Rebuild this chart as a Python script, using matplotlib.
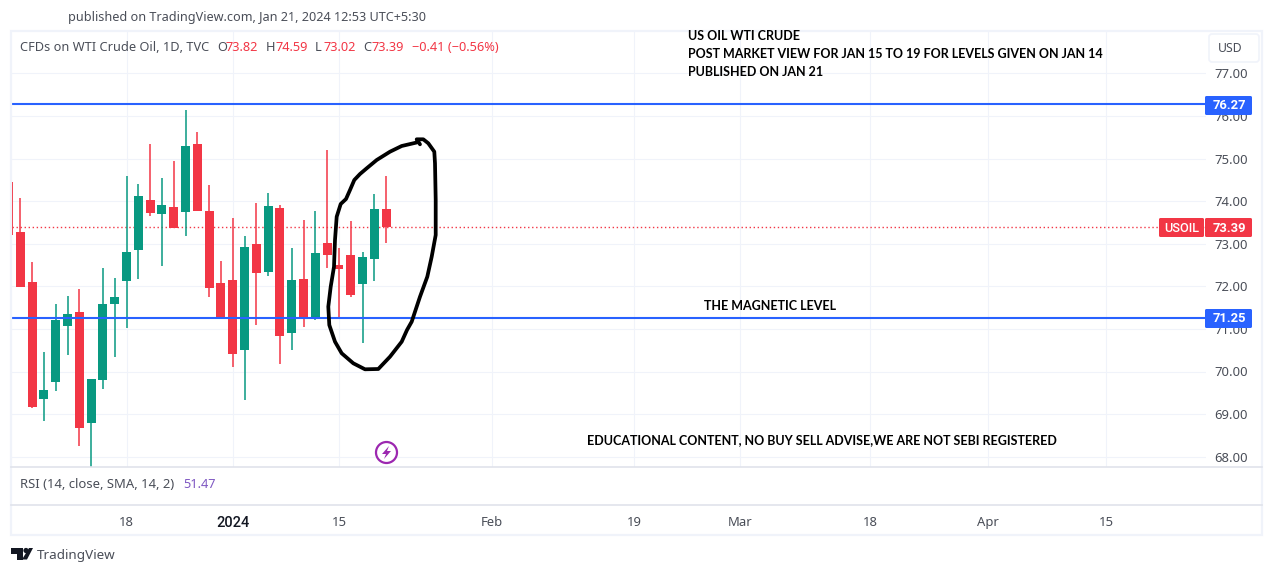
import matplotlib
matplotlib.use("Agg")
import matplotlib.pyplot as plt
from matplotlib.patches import FancyBboxPatch, Rectangle, Circle, Polygon

W, H = 1273, 574

# bar index runs from -1 (cut off at left edge) to 31 (Jan 19)
opens = [74.46, 73.28, 72.10, 69.36, 69.76, 71.07, 71.40, 68.79, 69.80, 71.59, 72.13,
         72.85, 74.03, 73.70, 73.86, 73.75, 75.34, 73.77, 72.08, 72.15, 70.51, 72.99,
         72.34, 73.84, 70.91, 72.17, 71.28, 73.02, 72.50, 72.74, 72.06, 72.64, 73.82]
highs = [74.60, 74.08, 72.57, 70.46, 71.59, 71.78, 71.94, 69.83, 72.43, 72.20, 74.59,
         74.40, 75.34, 74.54, 74.94, 76.14, 75.62, 74.38, 72.60, 73.61, 73.18, 73.96,
         74.19, 73.91, 72.90, 73.56, 73.77, 75.20, 72.90, 73.54, 72.81, 74.17, 74.59]
lows = [73.10, 71.99, 69.15, 68.84, 69.55, 70.39, 68.25, 67.70, 69.59, 70.34, 71.02,
        72.17, 73.65, 72.48, 73.37, 73.18, 73.77, 71.75, 71.28, 70.11, 69.33, 71.09,
        72.24, 70.18, 70.51, 71.05, 71.21, 72.43, 71.28, 71.75, 70.67, 72.13, 73.02]
closes = [73.21, 71.99, 69.17, 69.57, 71.21, 71.35, 68.68, 69.83, 71.59, 71.75, 72.81,
          74.12, 73.72, 73.91, 73.37, 75.30, 73.77, 71.96, 71.28, 70.41, 72.92, 72.31,
          73.89, 70.84, 72.15, 71.23, 72.78, 72.74, 72.41, 71.80, 72.69, 73.82, 73.39]

price_ticks = [68, 69, 70, 71, 72, 73, 74, 75, 76, 77]
time_pos = [9, 18, 27, 40, 52, 61, 72, 82, 92]
time_labels = ["18", "2024", "15", "Feb", "19", "Mar", "18", "Apr", "15"]
levels = [76.27, 71.25]
last_close = 73.39

# hand drawn loop, screen pixels
loop_x = [420, 416.7, 423.3, 428.3, 434.3, 435, 435.7, 435.7, 431.7, 427.3, 420, 411.7, 407, 401.7,
          390, 378.3, 365, 353.3, 341.7, 335, 329.3, 328.3, 330.7, 334, 335, 336.7, 340.7,
          346, 350, 354.3, 360, 366.7, 376.7, 390, 401.7, 416.7]
loop_y = [144.3, 139.3, 139.3, 143.3, 151.7, 163.3, 200, 235, 256.7, 276.7, 296.7, 321.7, 330, 341.7,
          356.7, 369, 369.3, 363.3, 353.3, 341.7, 325, 306.7, 286.7, 266.7, 240, 216.7, 204,
          199, 190, 180, 174, 168.3, 160, 151.7, 146, 142.5]

GREEN = "#089981"
RED = "#f23645"
BLUE = "#2962ff"
GRID = "#f0f3fa"
TXT = "#131722"
GREY = "#4a4e58"

plt.rcParams["font.family"] = ["Noto Sans", "DejaVu Sans"]
fig = plt.figure(figsize=(W / 100, H / 100), dpi=100)

# main price pane
left = 11.5
ax = fig.add_axes([left / W, 1 - 467 / H, (1206 - left) / W, 436 / H])
ax.set_xlim((left - 20.3) / 11.8, (1206 - 20.3) / 11.8)
ax.set_ylim(77 - (467 - 73.3) / 42.6, 77 + 42.3 / 42.6)
for s in ax.spines.values():
    s.set_visible(False)
ax.grid(True, color=GRID, lw=0.8)
ax.set_axisbelow(True)
ax.set_yticks(price_ticks)
ax.set_yticklabels(["%.2f" % p for p in price_ticks], fontsize=9.4, color=GREY)
ax.yaxis.tick_right()
ax.tick_params(axis="y", length=0, pad=6)
ax.set_xticks(time_pos)
ax.set_xticklabels(time_labels, fontsize=9.4, color=GREY)
ax.tick_params(axis="x", length=0, pad=35)
for lab in ax.get_xticklabels():
    if lab.get_text() == "2024":
        lab.set_family("Roboto")
        lab.set_fontweight("medium")
        lab.set_fontsize(10.5)
        lab.set_color(TXT)

for n in range(len(opens)):
    i = n - 1
    col = GREEN if closes[n] >= opens[n] else RED
    wick = ax.vlines(i, lows[n], highs[n], color=col, lw=1.1, zorder=2)
    wick.set_snap(True)
    ax.bar(i, abs(closes[n] - opens[n]), bottom=min(opens[n], closes[n]), width=0.76, color=col, lw=0, zorder=3)

ax.axhline(last_close, color=RED, lw=1, ls=(0, (1, 1.9)), zorder=1)
for lv in levels:
    ax.axhline(lv, color=BLUE, lw=1.5, zorder=4)

# overlay in screen pixels for chrome and labels
ov = fig.add_axes([0, 0, 1, 1], facecolor="none")
ov.set_xlim(0, W)
ov.set_ylim(H, 0)
ov.axis("off")

ov.add_patch(Rectangle((10.5, 30.5), 1251.5, 504, fill=False, ec=GRID, lw=1.6))
ov.plot([11, 1262], [467, 467], color="#e0e3eb", lw=1.2)
ov.plot([11, 1262], [505, 505], color="#e0e3eb", lw=1.2)
ov.add_patch(FancyBboxPatch((1209, 34), 50, 28, boxstyle="round,pad=0,rounding_size=3", fc="white", ec=GRID, lw=1.2))
ov.text(1230, 48.5, "USD", fontsize=8.8, color=GREY, ha="center", va="center")

ov.text(68, 17, "published on TradingView.com, Jan 21, 2024 12:53 UTC+5:30", fontsize=9.1, color=GREY, va="center")
ov.text(20, 47.5, "CFDs on WTI Crude Oil, 1D, TVC", fontsize=9.2, color=GREY, va="center")
for x, s, c in [(217, "O", GREY), (226, "73.82", RED), (266, "H", GREY), (275, "74.59", RED),
                (315, "L", GREY), (323, "73.02", RED), (363, "C", GREY), (371, "73.39", RED),
                (412, "\u22120.41 (\u22120.56%)", RED)]:
    ov.text(x, 47.5, s, fontsize=9.2, color=c, va="center")
ov.text(20, 485, "RSI (14, close, SMA, 14, 2)", fontsize=9.4, color=GREY, va="center")
ov.text(183, 485, "51.47", fontsize=9.2, color="#7e57c2", va="center")

# black annotations
for y, s in [(36, "US OIL WTI CRUDE"), (54, "POST MARKET VIEW FOR JAN 15 TO 19 FOR LEVELS GIVEN ON JAN 14"),
             (72, "PUBLISHED ON JAN 21")]:
    ov.text(688, y, s, fontsize=9.0, family="Lato", fontweight="bold", color="black", va="center")
ov.text(704, 306.5, "THE MAGNETIC LEVEL", fontsize=9.0, family="Lato", fontweight="bold", color="black", va="center")
ov.text(587, 440, "EDUCATIONAL CONTENT, NO BUY SELL ADVISE,WE ARE NOT SEBI REGISTERED", fontsize=9.0,
        family="Lato", fontweight="bold", color="black", va="center")

ov.plot(loop_x, loop_y, color="black", lw=2.7, solid_joinstyle="round", solid_capstyle="round")

# price labels on the scale
for lv, yy in [(levels[0], 105.5), (levels[1], 318.5)]:
    ov.add_patch(FancyBboxPatch((1205, yy - 9.5), 47, 19, boxstyle="round,pad=0,rounding_size=1.5", fc=BLUE, ec="none", zorder=5))
    ov.text(1229.5, yy, "%.2f" % lv, color="white", fontsize=9.4, family="Roboto", fontweight="bold", ha="center", va="center", zorder=6)
ov.add_patch(FancyBboxPatch((1159, 218), 45, 19, boxstyle="round,pad=0,rounding_size=1.5", fc=RED, ec="none", zorder=5))
ov.add_patch(FancyBboxPatch((1205, 218), 47, 19, boxstyle="round,pad=0,rounding_size=1.5", fc=RED, ec="none", zorder=5))
ov.text(1181.5, 228, "USOIL", color="white", fontsize=9.2, family="Roboto", fontweight="medium", ha="center", va="center", zorder=6)
ov.text(1229.5, 228, "%.2f" % last_close, color="white", fontsize=9.4, family="Roboto", fontweight="bold", ha="center", va="center", zorder=6)

# lightning badge
PURPLE = "#9c27b0"
ov.add_patch(Circle((386.5, 452.5), 10.5, fc="white", ec=PURPLE, lw=1.6, zorder=5))
ov.add_patch(Polygon([(389, 446), (382, 454), (386, 454), (384, 459), (391, 451), (387, 451)], fc=PURPLE, ec="none", zorder=6))

# TradingView logo
ov.add_patch(Polygon([(11, 548), (23, 548), (23, 559.5), (17, 559.5), (17, 553.5), (11, 553.5)], fc=TXT, ec="none"))
ov.add_patch(Circle((26, 550.5), 2.6, fc=TXT, ec="none"))
ov.add_patch(Polygon([(29, 548), (33, 548), (27, 559.5), (22, 559.5)], fc=TXT, ec="none"))
ov.text(37, 556, "TradingView", fontsize=9.7, color=GREY, va="center")

fig.savefig("out.png", dpi=100)
